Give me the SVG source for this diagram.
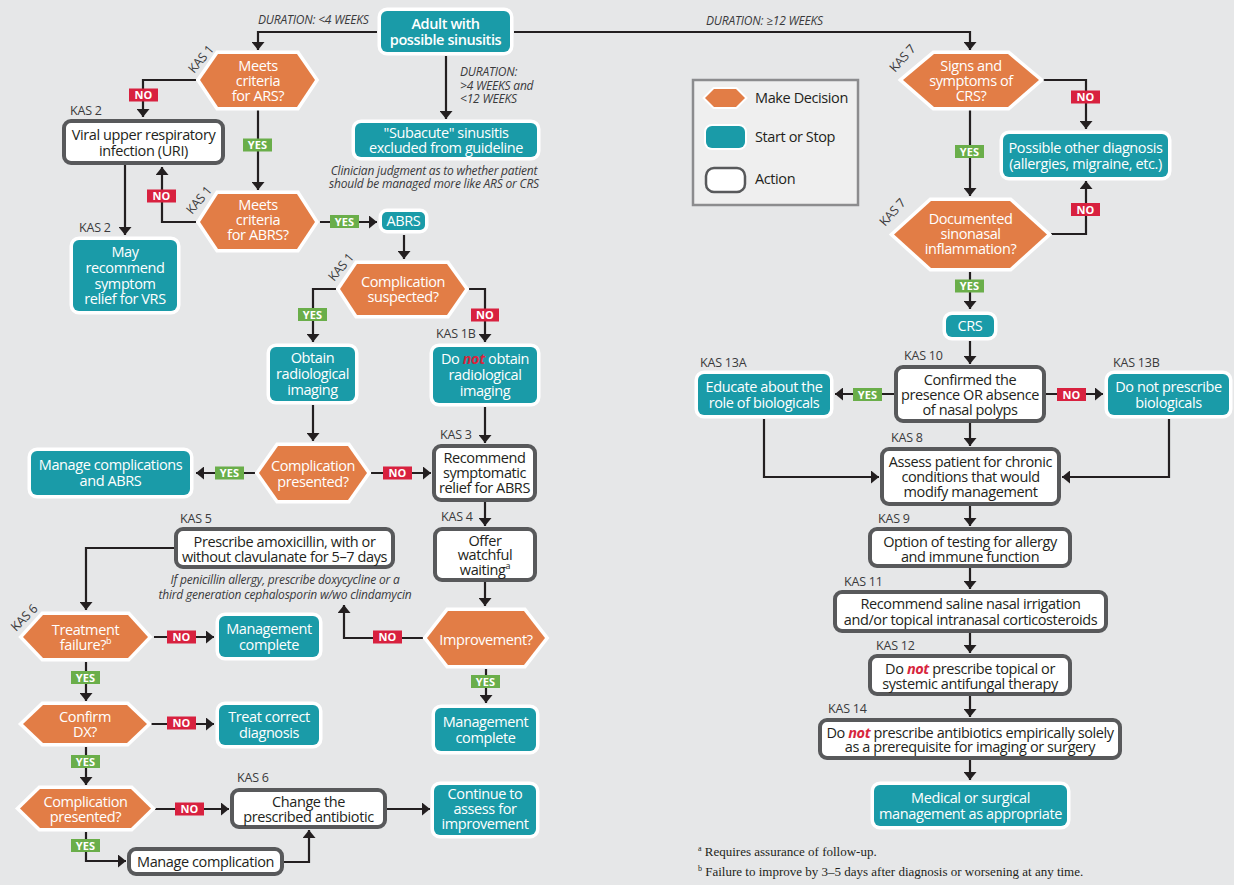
<svg xmlns="http://www.w3.org/2000/svg" width="1234" height="885" viewBox="0 0 1234 885">
<style>
.teal{fill:#1a9ba8;stroke:#fff;stroke-width:7;paint-order:stroke}
.act{fill:#fff;stroke:#58595b;stroke-width:4}
.hex{fill:#e27d46;stroke:#fff;stroke-width:7;paint-order:stroke;stroke-linejoin:miter}
text{font-family:"Open Sans","Liberation Sans",sans-serif}
.t{font-size:14.5px;letter-spacing:-0.4px;text-anchor:middle}
.w{fill:#fff}
.d{fill:#231f20}
.b{font-weight:600}
.kas{font-size:12.5px;fill:#3a3a3c;letter-spacing:-0.2px}
.it{font-style:italic;font-size:12px;fill:#3a3a3c;letter-spacing:-0.2px}
.not{fill:#d7263d;font-style:italic;font-weight:700}
.conn path{fill:none;stroke:#231f20;stroke-width:2.2;marker-end:url(#ah)}
.yes{fill:#6aae4a}
.no{fill:#d8213f}
.lt{font-size:11px;font-weight:700;fill:#fff;text-anchor:middle;letter-spacing:0.2px}
.fn{font-family:"Liberation Serif",serif;font-size:13px;fill:#231f20}
</style>
<defs>
<marker id="ah" viewBox="0 0 8 13" refX="8" refY="6.5" markerWidth="8" markerHeight="13" markerUnits="userSpaceOnUse" orient="auto">
<path d="M0,0 L8,6.5 L0,13 z" fill="#231f20"/>
</marker>
</defs>
<rect width="1234" height="885" fill="#e6e7e8"/>

<g id="connectors" class="conn">
<path d="M377,32 H258 V50"/>
<path d="M514,32 H970 V50"/>
<path d="M446,56 V119"/>
<path d="M196,80 H143 V117"/>
<path d="M258,110 V190"/>
<path d="M196,222 H162 V167"/>
<path d="M125,165 V235"/>
<path d="M320,222 H377"/>
<path d="M404,235 V259"/>
<path d="M336,289 H313 V342"/>
<path d="M469,289 H485 V342"/>
<path d="M485,407 V443"/>
<path d="M313,405 V441"/>
<path d="M255,473 H196"/>
<path d="M371,473 H431"/>
<path d="M485,502 V526"/>
<path d="M485,582 V606"/>
<path d="M423,638 H344 V605"/>
<path d="M486,669 V703"/>
<path d="M174,548 H86 V610"/>
<path d="M154,637 H214"/>
<path d="M86,662 V701"/>
<path d="M150,724 H214"/>
<path d="M86,747 V785"/>
<path d="M155,809 H229"/>
<path d="M387,809 H430"/>
<path d="M86,832 V861 H126"/>
<path d="M284,862 H309 V830"/>
<path d="M1043,80 H1086 V129"/>
<path d="M970,110 V196"/>
<path d="M1051,234 H1086 V181"/>
<path d="M970,272 V309"/>
<path d="M970,341 V364"/>
<path d="M894,394 H835"/>
<path d="M1046,394 H1103"/>
<path d="M764,419 V477 H879"/>
<path d="M1169,419 V477 H1062"/>
<path d="M970,423 V446"/>
<path d="M970,506 V526"/>
<path d="M970,568 V589"/>
<path d="M970,633 V653"/>
<path d="M970,696 V717"/>
<path d="M970,760 V780"/>
</g>

<g id="edge-labels">
<rect class="no" x="129" y="88.5" width="29" height="13"/><text class="lt" x="143.5" y="99">NO</text>
<rect class="yes" x="243" y="138.5" width="29" height="13"/><text class="lt" x="257.5" y="149">YES</text>
<rect class="no" x="147" y="189.5" width="29" height="13"/><text class="lt" x="161.5" y="200">NO</text>
<rect class="yes" x="330" y="215" width="29" height="13"/><text class="lt" x="344.5" y="225.5">YES</text>
<rect class="yes" x="298" y="308" width="29" height="13"/><text class="lt" x="312.5" y="318.5">YES</text>
<rect class="no" x="471" y="308.5" width="28" height="13"/><text class="lt" x="485" y="319">NO</text>
<rect class="yes" x="215" y="466.5" width="29" height="13"/><text class="lt" x="229.5" y="477">YES</text>
<rect class="no" x="383" y="466.5" width="29" height="13"/><text class="lt" x="397.5" y="477">NO</text>
<rect class="no" x="373" y="630.5" width="29" height="13"/><text class="lt" x="387.5" y="641">NO</text>
<rect class="yes" x="471" y="675" width="29" height="13"/><text class="lt" x="485.5" y="685.5">YES</text>
<rect class="no" x="167" y="630.5" width="29" height="13"/><text class="lt" x="181.5" y="641">NO</text>
<rect class="yes" x="71" y="671" width="29" height="13"/><text class="lt" x="85.5" y="681.5">YES</text>
<rect class="no" x="167" y="716.5" width="29" height="13"/><text class="lt" x="181.5" y="727">NO</text>
<rect class="yes" x="71" y="755" width="29" height="13"/><text class="lt" x="85.5" y="765.5">YES</text>
<rect class="no" x="175" y="802.5" width="29" height="13"/><text class="lt" x="189.5" y="813">NO</text>
<rect class="yes" x="71" y="839" width="29" height="13"/><text class="lt" x="85.5" y="849.5">YES</text>
<rect class="no" x="1071" y="90.5" width="29" height="13"/><text class="lt" x="1085.5" y="101">NO</text>
<rect class="yes" x="955" y="145" width="29" height="13"/><text class="lt" x="969.5" y="155.5">YES</text>
<rect class="no" x="1071" y="203" width="29" height="13"/><text class="lt" x="1085.5" y="213.5">NO</text>
<rect class="yes" x="955" y="279.5" width="29" height="13"/><text class="lt" x="969.5" y="290">YES</text>
<rect class="yes" x="853" y="388" width="29" height="13"/><text class="lt" x="867.5" y="398.5">YES</text>
<rect class="no" x="1057" y="388" width="29" height="13"/><text class="lt" x="1071.5" y="398.5">NO</text>
</g>

<g id="duration-labels">
<text class="it" x="258" y="24">DURATION: &lt;4 WEEKS</text>
<text class="it" x="706" y="25">DURATION: ≥12 WEEKS</text>
<text class="it" x="460" y="76">DURATION:</text>
<text class="it" x="460" y="90">&gt;4 WEEKS and</text>
<text class="it" x="460" y="103">&lt;12 WEEKS</text>
</g>

<g id="start"><rect class="teal" x="381" y="11" width="129" height="41" rx="6"/>
<text class="t w b" x="445.5" y="29">Adult with</text><text class="t w b" x="445.5" y="45">possible sinusitis</text></g>

<g id="subacute"><rect class="teal" x="355" y="123" width="182" height="34" rx="6"/>
<text class="t w" x="446" y="138">"Subacute" sinusitis</text><text class="t w" x="446" y="153">excluded from guideline</text>
<text class="it" x="434" y="175" text-anchor="middle">Clinician judgment as to whether patient</text>
<text class="it" x="434" y="188" text-anchor="middle">should be managed more like ARS or CRS</text></g>

<g id="ars"><polygon class="hex" points="200,80 218,54 297,54 315,80 297,107 218,107"/>
<text class="t w" x="258" y="71">Meets</text><text class="t w" x="258" y="86">criteria</text><text class="t w" x="258" y="101">for ARS?</text>
<text class="kas" transform="translate(194,74) rotate(-50)">KAS 1</text></g>

<g id="viral"><rect class="act" x="64" y="121" width="159" height="42" rx="7"/>
<text class="t d" x="143.5" y="140">Viral upper respiratory</text><text class="t d" x="143.5" y="156">infection (URI)</text>
<text class="kas" x="70" y="115">KAS 2</text></g>

<g id="abrs-q"><polygon class="hex" points="200,222 218,194 297,194 315,222 297,249 218,249"/>
<text class="t w" x="258" y="210">Meets</text><text class="t w" x="258" y="225">criteria</text><text class="t w" x="258" y="240">for ABRS?</text>
<text class="kas" transform="translate(192,215) rotate(-50)">KAS 1</text></g>

<g id="may"><rect class="teal" x="73" y="240" width="104" height="71" rx="6"/>
<text class="t w" x="125" y="257">May</text><text class="t w" x="125" y="273">recommend</text><text class="t w" x="125" y="289">symptom</text><text class="t w" x="125" y="304">relief for VRS</text>
<text class="kas" x="79" y="232">KAS 2</text></g>

<g id="abrs"><rect class="teal" x="382" y="212" width="43" height="18" rx="5"/>
<text class="t w" x="403.5" y="226">ABRS</text></g>

<g id="comp-susp"><polygon class="hex" points="340,289 357,264 447,264 465,289 447,315 357,315"/>
<text class="t w" x="403" y="287">Complication</text><text class="t w" x="403" y="302">suspected?</text>
<text class="kas" transform="translate(334,282) rotate(-50)">KAS 1</text></g>

<g id="obtain"><rect class="teal" x="270" y="347" width="85" height="54" rx="6"/>
<text class="t w" x="312.5" y="363">Obtain</text><text class="t w" x="312.5" y="379">radiological</text><text class="t w" x="312.5" y="395">imaging</text></g>

<g id="donot-obtain"><rect class="teal" x="433" y="347" width="104" height="56" rx="6"/>
<text class="t w" x="485" y="364">Do <tspan class="not">not</tspan> obtain</text><text class="t w" x="485" y="380">radiological</text><text class="t w" x="485" y="396">imaging</text>
<text class="kas" x="436" y="338">KAS 1B</text></g>

<g id="comp-pres"><polygon class="hex" points="259,473 278,446 348,446 367,473 348,500 278,500"/>
<text class="t w" x="313" y="471">Complication</text><text class="t w" x="313" y="487">presented?</text></g>

<g id="manage-abrs"><rect class="teal" x="31" y="451" width="159" height="44" rx="6"/>
<text class="t w" x="110.5" y="470">Manage complications</text><text class="t w" x="110.5" y="486">and ABRS</text></g>

<g id="recommend"><rect class="act" x="434" y="446" width="101" height="54" rx="7"/>
<text class="t d" x="484.5" y="463">Recommend</text><text class="t d" x="484.5" y="478">symptomatic</text><text class="t d" x="484.5" y="493">relief for ABRS</text>
<text class="kas" x="440" y="439">KAS 3</text></g>

<g id="prescribe"><rect class="act" x="176" y="529" width="217" height="38" rx="7"/>
<text class="t d" x="284.5" y="547">Prescribe amoxicillin, with or</text><text class="t d" x="284.5" y="562">without clavulanate for 5–7 days</text>
<text class="kas" x="180" y="523">KAS 5</text>
<text class="it" x="285" y="584" text-anchor="middle">If penicillin allergy, prescribe doxycycline or a</text>
<text class="it" x="285" y="599" text-anchor="middle">third generation cephalosporin w/wo clindamycin</text></g>

<g id="offer"><rect class="act" x="435" y="529" width="100" height="51" rx="7"/>
<text class="t d" x="485" y="546">Offer</text><text class="t d" x="485" y="560">watchful</text><text class="t d" x="485" y="575">waiting<tspan font-size="9" dy="-6">a</tspan></text>
<text class="kas" x="441" y="521">KAS 4</text></g>

<g id="improvement"><polygon class="hex" points="427,638 448,611 524,611 545,638 524,665 448,665"/>
<text class="t w" x="486" y="645">Improvement?</text></g>

<g id="mgmt-right"><rect class="teal" x="435" y="708" width="101" height="43" rx="6"/>
<text class="t w" x="485.5" y="727">Management</text><text class="t w" x="485.5" y="743">complete</text></g>

<g id="treatment"><polygon class="hex" points="23,637 43,615 128,615 148,637 128,658 43,658"/>
<text class="t w" x="85.5" y="635">Treatment</text><text class="t w" x="85.5" y="650">failure?<tspan font-size="9" dy="-6">b</tspan></text>
<text class="kas" transform="translate(16,632) rotate(-45)">KAS 6</text></g>

<g id="mgmt-left"><rect class="teal" x="219" y="616" width="100" height="41" rx="6"/>
<text class="t w" x="269" y="634">Management</text><text class="t w" x="269" y="650">complete</text></g>

<g id="confirm"><polygon class="hex" points="23,724 43,705 127,705 147,724 127,743 43,743"/>
<text class="t w" x="85" y="722">Confirm</text><text class="t w" x="85" y="737">DX?</text></g>

<g id="treat-correct"><rect class="teal" x="219" y="705" width="100" height="40" rx="6"/>
<text class="t w" x="269" y="722">Treat correct</text><text class="t w" x="269" y="738">diagnosis</text></g>

<g id="comp-bottom"><polygon class="hex" points="20,808.5 40,789 131,789 151,808.5 131,828 40,828"/>
<text class="t w" x="85.5" y="807">Complication</text><text class="t w" x="85.5" y="822">presented?</text></g>

<g id="change"><rect class="act" x="232" y="790" width="153" height="37" rx="7"/>
<text class="t d" x="308.5" y="807">Change the</text><text class="t d" x="308.5" y="822">prescribed antibiotic</text>
<text class="kas" x="237" y="782">KAS 6</text></g>

<g id="continue"><rect class="teal" x="434" y="785" width="102" height="50" rx="6"/>
<text class="t w" x="485" y="799">Continue to</text><text class="t w" x="485" y="814">assess for</text><text class="t w" x="485" y="829">improvement</text></g>

<g id="manage-comp"><rect class="act" x="129" y="849" width="153" height="25" rx="7"/>
<text class="t d" x="205.5" y="867">Manage complication</text></g>

<g id="legend">
<rect x="693" y="80" width="165" height="125" fill="#efefef" stroke="#8c8c8e" stroke-width="2.5"/>
<polygon class="hex" points="705,98 714,89 736,89 745,98 736,107 714,107" style="stroke-width:4"/>
<text class="t d" x="755" y="103" style="text-anchor:start">Make Decision</text>
<rect class="teal" x="706" y="126" width="39" height="22" rx="6" style="stroke-width:4"/>
<text class="t d" x="755" y="142" style="text-anchor:start">Start or Stop</text>
<rect x="706" y="168" width="39" height="24" rx="8" fill="#fff" stroke="#58595b" stroke-width="2.5"/>
<text class="t d" x="755" y="184" style="text-anchor:start">Action</text>
</g>

<g id="signs"><polygon class="hex" points="903,80 934,54 1008,54 1039,80 1008,107 934,107"/>
<text class="t w" x="971" y="71">Signs and</text><text class="t w" x="971" y="86">symptoms of</text><text class="t w" x="971" y="101">CRS?</text>
<text class="kas" transform="translate(895,73) rotate(-48)">KAS 7</text></g>

<g id="possible"><rect class="teal" x="1003" y="134" width="165" height="43" rx="6"/>
<text class="t w" x="1085.5" y="153">Possible other diagnosis</text><text class="t w" x="1085.5" y="169">(allergies, migraine, etc.)</text></g>

<g id="documented"><polygon class="hex" points="894,234.5 931,201 1010,201 1047,234.5 1010,268 931,268"/>
<text class="t w" x="970.5" y="224">Documented</text><text class="t w" x="970.5" y="239">sinonasal</text><text class="t w" x="970.5" y="254">inflammation?</text>
<text class="kas" transform="translate(885,227) rotate(-48)">KAS 7</text></g>

<g id="crs"><rect class="teal" x="946" y="315" width="48" height="22" rx="6"/>
<text class="t w" x="970" y="331">CRS</text></g>

<g id="confirmed"><rect class="act" x="896" y="367" width="148" height="54" rx="7"/>
<text class="t d" x="970" y="385">Confirmed the</text><text class="t d" x="970" y="400">presence OR absence</text><text class="t d" x="970" y="415">of nasal polyps</text>
<text class="kas" x="904" y="360">KAS 10</text></g>

<g id="educate"><rect class="teal" x="698" y="374" width="132" height="41" rx="6"/>
<text class="t w" x="764" y="392">Educate about the</text><text class="t w" x="764" y="408">role of biologicals</text>
<text class="kas" x="700" y="367">KAS 13A</text></g>

<g id="donot-bio"><rect class="teal" x="1108" y="374" width="121" height="41" rx="6"/>
<text class="t w" x="1168.5" y="392">Do not prescribe</text><text class="t w" x="1168.5" y="408">biologicals</text>
<text class="kas" x="1113" y="367">KAS 13B</text></g>

<g id="assess"><rect class="act" x="882" y="449" width="177" height="55" rx="7"/>
<text class="t d" x="970.5" y="467">Assess patient for chronic</text><text class="t d" x="970.5" y="482">conditions that would</text><text class="t d" x="970.5" y="497">modify management</text>
<text class="kas" x="891" y="442">KAS 8</text></g>

<g id="option"><rect class="act" x="870" y="529" width="200" height="37" rx="7"/>
<text class="t d" x="970" y="547">Option of testing for allergy</text><text class="t d" x="970" y="562">and immune function</text>
<text class="kas" x="878" y="523">KAS 9</text></g>

<g id="saline"><rect class="act" x="835" y="592" width="271" height="39" rx="7"/>
<text class="t d" x="970.5" y="609">Recommend saline nasal irrigation</text><text class="t d" x="970.5" y="625">and/or topical intranasal corticosteroids</text>
<text class="kas" x="844" y="586">KAS 11</text></g>

<g id="antifungal"><rect class="act" x="870" y="656" width="200" height="38" rx="7"/>
<text class="t d" x="970" y="674">Do <tspan class="not">not</tspan> prescribe topical or</text><text class="t d" x="970" y="689">systemic antifungal therapy</text>
<text class="kas" x="876" y="650">KAS 12</text></g>

<g id="antibiotics"><rect class="act" x="820" y="720" width="300" height="38" rx="7"/>
<text class="t d" x="970" y="738">Do <tspan class="not">not</tspan> prescribe antibiotics empirically solely</text><text class="t d" x="970" y="752">as a prerequisite for imaging or surgery</text>
<text class="kas" x="828" y="713">KAS 14</text></g>

<g id="medical"><rect class="teal" x="874" y="785" width="193" height="41" rx="6"/>
<text class="t w" x="970.5" y="803">Medical or surgical</text><text class="t w" x="970.5" y="819">management as appropriate</text></g>

<g id="footnotes">
<text class="fn" x="698" y="856"><tspan font-size="8" dy="-5">a</tspan><tspan dy="5"> Requires assurance of follow-up.</tspan></text>
<text class="fn" x="698" y="876"><tspan font-size="8" dy="-5">b</tspan><tspan dy="5"> Failure to improve by 3–5 days after diagnosis or worsening at any time.</tspan></text>
</g>
</svg>
